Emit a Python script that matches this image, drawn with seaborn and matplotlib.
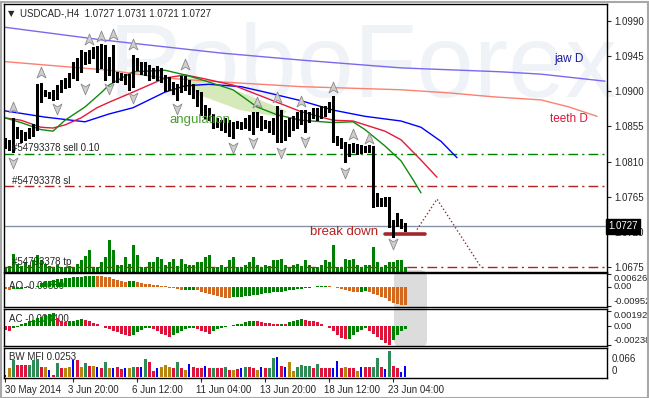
import matplotlib
matplotlib.use("Agg")
import numpy as np
import matplotlib.pyplot as plt
import seaborn as sns
from matplotlib.path import Path
from matplotlib.patches import FancyBboxPatch, Rectangle
from matplotlib.transforms import IdentityTransform, ScaledTranslation

sns.set_style("white")
plt.rcParams["font.family"] = ["Liberation Sans", "DejaVu Sans"]

# ---- USDCAD H4 bars (30 May - 23 Jun 2014) ----
bar_open = [
    1.0835, 1.0831, 1.0829, 1.0853, 1.0844, 1.0840, 1.0845, 1.0849, 1.0856, 1.0904,
    1.0895, 1.0897, 1.0894, 1.0894, 1.0904, 1.0909, 1.0911, 1.0920, 1.0932, 1.0935,
    1.0946, 1.0943, 1.0948, 1.0953, 1.0945, 1.0935, 1.0925, 1.0938, 1.0920, 1.0917,
    1.0918, 1.0916, 1.0908, 1.0940, 1.0932, 1.0930, 1.0927, 1.0922, 1.0925, 1.0921,
    1.0917, 1.0909, 1.0907, 1.0904, 1.0902, 1.0915, 1.0909, 1.0904, 1.0899, 1.0889,
    1.0876, 1.0874, 1.0870, 1.0861, 1.0858, 1.0861, 1.0857, 1.0853, 1.0854, 1.0858,
    1.0857, 1.0861, 1.0863, 1.0866, 1.0863, 1.0858, 1.0858, 1.0854, 1.0851, 1.0874,
    1.0851, 1.0853, 1.0858, 1.0863, 1.0866, 1.0871, 1.0869, 1.0866, 1.0874, 1.0871,
    1.0876, 1.0874, 1.0881, 1.0840, 1.0838, 1.0833, 1.0825, 1.0828, 1.0830, 1.0828,
    1.0826, 1.0826, 1.0830, 1.0761, 1.0761, 1.0758, 1.0761, 1.0728, 1.0732, 1.0736,
    1.0727]
bar_high = [
    1.0840, 1.0838, 1.0866, 1.0854, 1.0851, 1.0848, 1.0853, 1.0858, 1.0909, 1.0911,
    1.0902, 1.0899, 1.0902, 1.0908, 1.0915, 1.0917, 1.0923, 1.0937, 1.0943, 1.0953,
    1.0950, 1.0953, 1.0957, 1.0958, 1.0961, 1.0959, 1.0944, 1.0959, 1.0925, 1.0923,
    1.0922, 1.0922, 1.0947, 1.0943, 1.0938, 1.0938, 1.0934, 1.0930, 1.0932, 1.0930,
    1.0921, 1.0918, 1.0912, 1.0909, 1.0920, 1.0920, 1.0915, 1.0909, 1.0902, 1.0899,
    1.0883, 1.0879, 1.0871, 1.0866, 1.0863, 1.0866, 1.0863, 1.0861, 1.0862, 1.0861,
    1.0866, 1.0870, 1.0874, 1.0874, 1.0869, 1.0863, 1.0862, 1.0866, 1.0881, 1.0876,
    1.0863, 1.0866, 1.0869, 1.0874, 1.0876, 1.0876, 1.0874, 1.0879, 1.0879, 1.0881,
    1.0881, 1.0886, 1.0894, 1.0843, 1.0840, 1.0835, 1.0832, 1.0834, 1.0832, 1.0831,
    1.0830, 1.0831, 1.0830, 1.0770, 1.0763, 1.0765, 1.0765, 1.0735, 1.0744, 1.0737,
    1.0731]
bar_low = [
    1.0828, 1.0825, 1.0822, 1.0840, 1.0835, 1.0838, 1.0840, 1.0843, 1.0851, 1.0886,
    1.0894, 1.0892, 1.0889, 1.0890, 1.0899, 1.0904, 1.0906, 1.0917, 1.0915, 1.0925,
    1.0935, 1.0936, 1.0943, 1.0925, 1.0930, 1.0915, 1.0921, 1.0912, 1.0912, 1.0915,
    1.0909, 1.0902, 1.0905, 1.0927, 1.0922, 1.0921, 1.0915, 1.0917, 1.0915, 1.0912,
    1.0900, 1.0902, 1.0897, 1.0889, 1.0899, 1.0902, 1.0897, 1.0892, 1.0881, 1.0870,
    1.0866, 1.0863, 1.0853, 1.0854, 1.0851, 1.0848, 1.0843, 1.0840, 1.0853, 1.0852,
    1.0853, 1.0851, 1.0845, 1.0854, 1.0851, 1.0853, 1.0848, 1.0846, 1.0835, 1.0835,
    1.0838, 1.0843, 1.0851, 1.0853, 1.0858, 1.0848, 1.0861, 1.0866, 1.0863, 1.0866,
    1.0869, 1.0874, 1.0835, 1.0831, 1.0828, 1.0810, 1.0817, 1.0822, 1.0820, 1.0821,
    1.0822, 1.0822, 1.0752, 1.0753, 1.0753, 1.0753, 1.0726, 1.0714, 1.0728, 1.0725,
    1.0721]
bar_close = [
    1.0831, 1.0829, 1.0853, 1.0844, 1.0840, 1.0845, 1.0849, 1.0856, 1.0904, 1.0895,
    1.0897, 1.0894, 1.0894, 1.0904, 1.0909, 1.0911, 1.0920, 1.0932, 1.0935, 1.0946,
    1.0943, 1.0948, 1.0953, 1.0945, 1.0935, 1.0925, 1.0938, 1.0920, 1.0917, 1.0918,
    1.0916, 1.0908, 1.0940, 1.0932, 1.0930, 1.0927, 1.0922, 1.0925, 1.0921, 1.0917,
    1.0909, 1.0907, 1.0904, 1.0902, 1.0915, 1.0909, 1.0904, 1.0899, 1.0889, 1.0876,
    1.0874, 1.0870, 1.0861, 1.0858, 1.0861, 1.0857, 1.0853, 1.0854, 1.0858, 1.0857,
    1.0861, 1.0863, 1.0866, 1.0863, 1.0858, 1.0858, 1.0854, 1.0851, 1.0874, 1.0851,
    1.0853, 1.0858, 1.0863, 1.0866, 1.0871, 1.0869, 1.0866, 1.0874, 1.0871, 1.0876,
    1.0874, 1.0881, 1.0840, 1.0838, 1.0833, 1.0825, 1.0828, 1.0830, 1.0828, 1.0826,
    1.0826, 1.0830, 1.0761, 1.0761, 1.0758, 1.0761, 1.0728, 1.0732, 1.0736, 1.0732,
    1.0727]
tick_volume = [
    500, 600, 1800, 800, 600, 1000, 700, 1200, 1700, 1200,
    800, 600, 500, 700, 500, 500, 600, 500, 800, 1200,
    1600, 2200, 500, 500, 1000, 1500, 3200, 2200, 700, 700,
    1500, 800, 2700, 1700, 500, 500, 1000, 1000, 1500, 1300,
    700, 1000, 1300, 600, 1300, 800, 700, 700, 1000, 1000,
    1500, 1700, 500, 500, 700, 500, 1200, 1500, 500, 500,
    700, 1000, 1500, 700, 500, 700, 600, 1200, 1200, 1300,
    700, 500, 700, 800, 600, 1200, 700, 500, 500, 700,
    1200, 1000, 2700, 500, 500, 1300, 1200, 1300, 700, 500,
    700, 700, 2500, 1000, 500, 700, 1000, 1000, 1200, 1200,
    500]

# ---- Alligator H4 and D1 ----
jaw_idx = [0, 10, 20, 26, 32, 36, 40, 45, 51, 59, 65, 74, 82, 90, 99, 104, 109, 113]
jaw_val = [1.0875, 1.0867, 1.0861, 1.0871, 1.0879, 1.0889, 1.0899, 1.0907, 1.0909,
           1.0906, 1.0899, 1.0888, 1.0876, 1.0868, 1.0862, 1.0854, 1.0836, 1.0815]
teeth_idx = [0, 4, 9, 12, 15, 19, 23, 26, 32, 40, 45, 49, 57, 65, 74, 82, 87, 95, 99, 104, 108]
teeth_val = [1.0866, 1.0863, 1.0854, 1.0853, 1.0857, 1.0866, 1.0879, 1.0886, 1.0899, 1.0917,
             1.0921, 1.0917, 1.0908, 1.0892, 1.0874, 1.0863, 1.0862, 1.0849, 1.0838, 1.0812, 1.0790]
lips_idx = [0, 4, 9, 12, 15, 20, 24, 26, 32, 40, 45, 49, 57, 63, 68, 74, 82, 87, 90, 95, 99, 102, 104]
lips_val = [1.0866, 1.0860, 1.0851, 1.0849, 1.0863, 1.0880, 1.0898, 1.0908, 1.0925, 1.0927,
            1.0921, 1.0915, 1.0902, 1.0880, 1.0870, 1.0863, 1.0860, 1.0861, 1.0851, 1.0830,
            1.0811, 1.0787, 1.0770]
jawD_idx = [0, 24, 54, 74, 99, 124, 134, 150]
jawD_val = [1.0982, 1.0966, 1.0949, 1.0940, 1.0930, 1.0925, 1.0922, 1.0913]
teethD_idx = [0, 26, 40, 54, 74, 99, 111, 122, 134, 141, 148]
teethD_val = [1.0938, 1.0927, 1.0917, 1.0912, 1.0906, 1.0902, 1.0898, 1.0893, 1.0889, 1.0880, 1.0868]

# ---- fractals ----
frac_up_idx = [2, 9, 21, 24, 27, 32, 45, 63, 68, 74, 82, 87, 91]
frac_up_val = [1.0879, 1.0923, 1.0966, 1.0970, 1.0972, 1.0959, 1.0934, 1.0885, 1.0891,
               1.0886, 1.0904, 1.0844, 1.0839]
frac_dn_idx = [2, 13, 20, 26, 32, 43, 57, 62, 69, 75, 85, 97]
frac_dn_val = [1.0810, 1.0879, 1.0904, 1.0904, 1.0893, 1.0879, 1.0829, 1.0835, 1.0822,
               1.0836, 1.0797, 1.0706]

# ---- order levels and annotations ----
sell_price = 1.0820
sl_price = 1.0779
tp_price = 1.0675
last_price = 1.0727
proj_idx = [103, 108, 119]
proj_val = [1.0723, 1.0762, 1.0675]
bd_idx = [95, 105]
bd_val = [1.0717, 1.0717]
ang_idx = [45.5, 58.75, 70.5, 68.75, 58.75, 48.75, 46.25]
ang_val = [1.0918, 1.0899, 1.0875, 1.0867, 1.0876, 1.0895, 1.0908]

# ---- oscillators ----
ao = [
    -0.0012, -0.0014, -0.0013, -0.0011, -0.0010, -0.0008, -0.0006, -0.0003, 0.0005, 0.0020,
    0.0026, 0.0030, 0.0033, 0.0036, 0.0039, 0.0041, 0.0044, 0.0046, 0.0048, 0.0050,
    0.0052, 0.0054, 0.0055, 0.0054, 0.0053, 0.0050, 0.0046, 0.0040, 0.0034, 0.0028,
    0.0025, 0.0026, 0.0027, 0.0022, 0.0018, 0.0014, 0.0012, 0.0010, 0.0006, 0.0003,
    0.0001, -0.0004, -0.0008, -0.0013, -0.0017, -0.0016, -0.0015, -0.0014, -0.0018, -0.0024,
    -0.0030, -0.0037, -0.0043, -0.0048, -0.0050, -0.0054, -0.0055, -0.0053, -0.0051, -0.0049,
    -0.0046, -0.0044, -0.0041, -0.0039, -0.0036, -0.0033, -0.0031, -0.0028, -0.0026, -0.0024,
    -0.0021, -0.0018, -0.0015, -0.0012, -0.0009, -0.0006, -0.0004, -0.0002, 0.0001, 0.0003,
    0.0004, 0.0002, -0.0003, -0.0008, -0.0013, -0.0018, -0.0022, -0.0024, -0.0026, -0.0024,
    -0.0023, -0.0027, -0.0034, -0.0042, -0.0050, -0.0058, -0.0068, -0.0078, -0.0084, -0.0088,
    -0.0090]
ac = [
    -0.0005, -0.0006, -0.0003, -0.0001, 0.0002, 0.0004, 0.0006, 0.0008, 0.0010, 0.0012,
    0.0014, 0.0016, 0.0017, 0.0010, 0.0007, 0.0005, 0.0006, 0.0007, 0.0008, 0.0009,
    0.0008, 0.0006, 0.0004, 0.0002, 0.0000, -0.0002, -0.0004, -0.0006, -0.0008, -0.0010,
    -0.0012, -0.0013, -0.0011, -0.0008, -0.0005, -0.0003, -0.0002, -0.0004, -0.0007, -0.0010,
    -0.0012, -0.0014, -0.0012, -0.0009, -0.0006, -0.0004, -0.0003, -0.0002, -0.0004, -0.0006,
    -0.0008, -0.0010, -0.0007, -0.0004, -0.0002, -0.0001, 0.0000, 0.0001, 0.0002, 0.0003,
    0.0005, 0.0006, 0.0007, 0.0006, 0.0005, 0.0004, 0.0004, 0.0003, 0.0002, 0.0003,
    0.0003, 0.0005, 0.0007, 0.0008, 0.0009, 0.0008, 0.0007, 0.0006, 0.0005, 0.0003,
    0.0000, -0.0003, -0.0007, -0.0011, -0.0015, -0.0017, -0.0016, -0.0012, -0.0008, -0.0005,
    -0.0003, -0.0006, -0.0010, -0.0014, -0.0018, -0.0022, -0.0024, -0.0018, -0.0011, -0.0006,
    -0.0004]
mfi = [
    0.0053, 0.0205, 0.0395, 0.0281, 0.0281, 0.0281, 0.0281, 0.0395, 0.0433, 0.0243,
    0.0243, 0.0167, 0.0053, 0.0319, 0.0205, 0.0205, 0.0243, 0.0395, 0.0395, 0.0243,
    0.0319, 0.0258, 0.0258, 0.0243, 0.0205, 0.0357, 0.0205, 0.0205, 0.0228, 0.0182,
    0.0205, 0.0205, 0.0228, 0.0228, 0.0243, 0.0418, 0.0357, 0.0129, 0.0205, 0.0228,
    0.0281, 0.0243, 0.0205, 0.0357, 0.0205, 0.0167, 0.0304, 0.0228, 0.0205, 0.0205,
    0.0258, 0.0205, 0.0205, 0.0205, 0.0205, 0.0228, 0.0167, 0.0167, 0.0182, 0.0205,
    0.0243, 0.0228, 0.0205, 0.0167, 0.0243, 0.0205, 0.0205, 0.0448, 0.0471, 0.0258,
    0.0243, 0.0357, 0.0129, 0.0243, 0.0281, 0.0258, 0.0258, 0.0205, 0.0304, 0.0205,
    0.0205, 0.0205, 0.0205, 0.0380, 0.0205, 0.0228, 0.0205, 0.0205, 0.0129, 0.0243,
    0.0228, 0.0228, 0.0228, 0.0456, 0.0243, 0.0182, 0.0608, 0.0258, 0.0205, 0.0106,
    0.0253]
# g = green, y = fade, b = fake, r = squat
mfi_state = (
    ["b", "y", "g", "r", "r", "r", "g", "g", "g", "r"]
    + ["y", "b", "r", "g", "r", "y", "y", "b", "r", "y"]
    + ["g", "r", "y", "b", "r", "g", "y", "b", "r", "r"]
    + ["b", "y", "g", "r", "b", "g", "r", "r", "b", "y"]
    + ["y", "y", "r", "g", "r", "y", "b", "r", "r", "r"]
    + ["b", "r", "g", "r", "r", "g", "r", "y", "r", "b"]
    + ["g", "r", "r", "y", "b", "r", "g", "g", "b", "r"]
    + ["b", "y", "y", "g", "g", "g", "g", "r", "g", "r"]
    + ["r", "r", "b", "b", "r", "y", "r", "r", "y", "b"]
    + ["r", "r", "g", "g", "r", "b", "g", "r", "r", "b"]
    + ["b"])

tick_idx = [0, 17, 33, 49, 65, 81, 97]
tick_lbl = ["30 May 2014", "3 Jun 20:00", "6 Jun 12:00", "11 Jun 04:00",
            "13 Jun 20:00", "18 Jun 12:00", "23 Jun 04:00"]

# ---------------------------------------------------------------
W, H = 649, 398
fig = plt.figure(figsize=(W / 100, H / 100), dpi=100)
fig.patch.set_facecolor("white")


def rect(x0, y0, x1, y1):
    return [x0 / W, 1 - y1 / H, (x1 - x0) / W, (y1 - y0) / H]


ax_vol = fig.add_axes(rect(4, 4, 607, 272))
ax = fig.add_axes(rect(4, 4, 607, 272))
ax_ao = fig.add_axes(rect(4, 273, 607, 307))
ax_ac = fig.add_axes(rect(4, 309, 607, 346))
ax_mfi = fig.add_axes(rect(4, 348, 607, 378))
for a in (ax_vol, ax, ax_ao, ax_ac, ax_mfi):
    a.set_xlim(-0.25, 150.5)

# highlight box behind the last AO / AC bars
fig.add_artist(FancyBboxPatch((394, H - 347), 33, 77, boxstyle="round,pad=0,rounding_size=7",
                              fc="#dcdcdc", ec="none", transform=IdentityTransform(), zorder=-1))
fig.add_artist(Rectangle((0.5, 0.5), W - 2, H - 2, fill=False, ec="#a8a8a8", lw=1.5,
                         transform=IdentityTransform()))

idx = np.arange(len(bar_close))

# volumes
ax_vol.vlines(idx, 0, tick_volume, color="#008000", lw=0.75, antialiased=False)
ax_vol.set_ylim(0, 26800)
ax_vol.axis("off")

# main chart
ax.set_facecolor("none")
ax.set_ylim(1.06687, 1.10118)
ax.text(0.596, 0.755, "RoboForex", transform=ax.transAxes, fontsize=74,
        family=["Liberation Sans Narrow", "Liberation Sans"],
        color="#eff2f6", ha="center", va="center", zorder=0)

ax.fill(ang_idx, ang_val, color="#d5e9b9", ec="none", zorder=1)

for price, col in [(sell_price, "#008000"), (sl_price, "#b22222"), (tp_price, "#b22222")]:
    ax.axhline(price, color=col, lw=1, ls=(0, (7, 3, 1.5, 3)), zorder=2)
ax.axhline(last_price, color="#8494a4", lw=1, zorder=2)

sns.lineplot(x=jawD_idx, y=jawD_val, ax=ax, color="#7b68ee", lw=1, estimator=None, sort=False)
sns.lineplot(x=teethD_idx, y=teethD_val, ax=ax, color="#fa8072", lw=1, estimator=None, sort=False)
sns.lineplot(x=jaw_idx, y=jaw_val, ax=ax, color="#0000ff", lw=1, estimator=None, sort=False)
sns.lineplot(x=teeth_idx, y=teeth_val, ax=ax, color="#e8173c", lw=1, estimator=None, sort=False)
sns.lineplot(x=lips_idx, y=lips_val, ax=ax, color="#108a10", lw=1, estimator=None, sort=False)
sns.lineplot(x=proj_idx, y=proj_val, ax=ax, color="#a52a2a", lw=1, ls=":", estimator=None, sort=False)
sns.lineplot(x=bd_idx, y=bd_val, ax=ax, color="#a3282a", lw=2.6, estimator=None, sort=False)

# OHLC bars
ax.vlines(idx, bar_low, bar_high, color="black", lw=0.8, antialiased=False, zorder=4)
ax.hlines(bar_open, idx - 0.28, idx, color="black", lw=0.75, zorder=4)
ax.hlines(bar_close, idx, idx + 0.28, color="black", lw=0.75, zorder=4)

# fractal arrows
up_marker = Path([(0, 1), (0.7, -0.7), (0, -0.25), (-0.7, -0.7), (0, 1)],
                 [Path.MOVETO, Path.LINETO, Path.LINETO, Path.LINETO, Path.CLOSEPOLY])
dn_marker = Path([(0, -1), (0.7, 0.7), (0, 0.25), (-0.7, 0.7), (0, -1)],
                 [Path.MOVETO, Path.LINETO, Path.LINETO, Path.LINETO, Path.CLOSEPOLY])
sns.scatterplot(x=frac_up_idx, y=frac_up_val, ax=ax, marker=up_marker, s=85,
                color="#cfcfcf", edgecolor="#8a8a8a", linewidth=0.6, zorder=6, legend=False)
sns.scatterplot(x=frac_dn_idx, y=frac_dn_val, ax=ax, marker=dn_marker, s=85,
                color="#cfcfcf", edgecolor="#8a8a8a", linewidth=0.6, zorder=6, legend=False)

# texts
ax.text(0.006, 0.966, "\u25bc", transform=ax.transAxes, fontsize=6, va="center", ha="left",
        family=["DejaVu Sans"])
ax.text(0.0265, 0.966, "USDCAD-,H4  1.0727 1.0731 1.0721 1.0727", transform=ax.transAxes,
        fontsize=7, va="center", ha="left", zorder=7)
ax.text(1.75, 1.0827, "#54793378 sell 0.10", fontsize=7, va="center", ha="left", zorder=7)
ax.text(1.75, 1.0785, "#54793378 sl", fontsize=7, va="center", ha="left", zorder=7)
ax.text(1.75, 1.0681, "#54793378 tp", fontsize=7, va="center", ha="left", zorder=7)
ax.text(41.25, 1.0863, "angulation", fontsize=9.5, color="#47a02f", va="center", ha="left", zorder=7)
ax.text(76.3, 1.0720, "break down", fontsize=9.5, color="#b22222", va="center", ha="left", zorder=7)
ax.text(137.3, 1.0941, "jaw D", fontsize=8.5, color="#1a1a9c", va="center", ha="left")
ax.text(136.3, 1.0865, "teeth D", fontsize=8.5, color="#dc143c", va="center", ha="left")

ax.set_xticks([])
ax.yaxis.tick_right()
ax.set_yticks([1.0990, 1.0945, 1.0900, 1.0855, 1.0810, 1.0765, 1.0720, 1.0675])
ax.set_yticklabels(["1.0990", "1.0945", "1.0900", "1.0855", "1.0810", "1.0765", "1.0720", "1.0675"])
ax.tick_params(axis="y", right=True, left=False, length=3, width=0.8, pad=2, labelsize=7)
ax.text(1.0017, last_price, "1.0727", transform=ax.get_yaxis_transform(), fontsize=7,
        color="white", va="center", ha="left", clip_on=False, zorder=10,
        bbox=dict(boxstyle="square,pad=0.22", fc="black", ec="black"))

# AO
ao_col = ["#d2691e"] + ["#008000" if ao[i] > ao[i - 1] else "#d2691e" for i in range(1, len(ao))]
ax_ao.set_facecolor("none")
ax_ao.text(0.008, 0.62, "AO -0.00880", transform=ax_ao.transAxes, fontsize=7, va="center", zorder=0)
ax_ao.bar(idx, ao, width=0.75, color=ao_col, linewidth=0, zorder=2)
ax_ao.set_ylim(-0.0100, 0.00675)
ax_ao.yaxis.tick_right()
ax_ao.set_yticks([0.00626, 0.0, -0.00952])
ax_ao.set_yticklabels(["0.00626", "0.00", "-0.00952"])

# AC
ac_col = ["#dc143c"] + ["#008000" if ac[i] > ac[i - 1] else "#dc143c" for i in range(1, len(ac))]
ax_ac.set_facecolor("none")
ax_ac.text(0.008, 0.73, "AC -0.000400", transform=ax_ac.transAxes, fontsize=7, va="center", zorder=0)
ax_ac.bar(idx, ac, width=0.75, color=ac_col, linewidth=0, zorder=2)
ax_ac.set_ylim(-0.00256, 0.00218)
ax_ac.yaxis.tick_right()
ax_ac.set_yticks([0.001924, 0.0, -0.00238])
ax_ac.set_yticklabels(["0.001924", "0.00", "-0.00238"])

for a in (ax_ao, ax_ac):
    a.tick_params(axis="y", right=True, left=False, length=3, width=0.8, pad=2, labelsize=6.8)
    labs = a.get_yticklabels()
    labs[0].set_va("top")
    labs[1].set_va("center")
    labs[2].set_va("bottom")
    a.set_xticks([])

# BW MFI
mfi_colors = {"g": "#2e8b57", "y": "#b8860b", "b": "#0000ff", "r": "#dc143c"}
mfi_col = [mfi_colors[s] for s in mfi_state]
mfi_w = [0.3 if s == "b" else 0.75 for s in mfi_state]
ax_mfi.text(0.008, 0.70, "BW MFI 0.0253", transform=ax_mfi.transAxes, fontsize=7, va="center", zorder=0)
ax_mfi.bar(idx, mfi, width=mfi_w, color=mfi_col, linewidth=0, zorder=2)
ax_mfi.set_ylim(-0.00234, 0.0679)
ax_mfi.set_yticks([])
ax_mfi.text(1.008, 0.633, "0.066", transform=ax_mfi.transAxes, fontsize=7, va="center", ha="left")
ax_mfi.text(1.008, 0.233, "0", transform=ax_mfi.transAxes, fontsize=7, va="center", ha="left")
ax_mfi.set_xticks(tick_idx)
ax_mfi.set_xticklabels(tick_lbl, ha="left")
ax_mfi.tick_params(axis="x", bottom=True, length=3, width=0.8, pad=2, labelsize=7)
for k, lab in enumerate(ax_mfi.get_xticklabels()):
    if k > 0:
        lab.set_transform(lab.get_transform() + ScaledTranslation(-0.05, 0, fig.dpi_scale_trans))

for a in (ax, ax_ao, ax_ac, ax_mfi):
    for s in a.spines.values():
        s.set_visible(True)
        s.set_color("black")
        s.set_linewidth(1)
    a.set_xlabel("")
    a.set_ylabel("")

fig.savefig("out.png", dpi=100)
